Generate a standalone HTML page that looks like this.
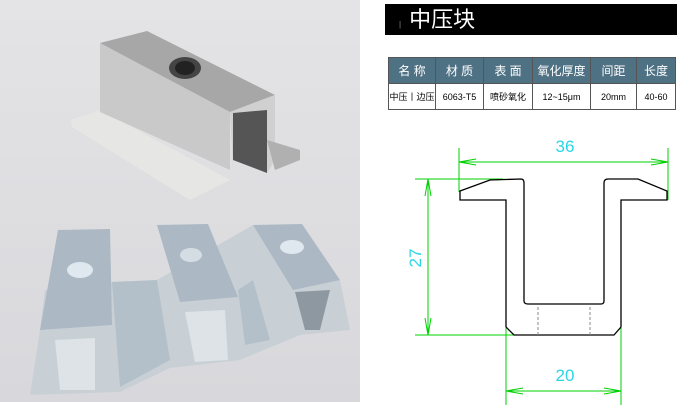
<!DOCTYPE html>
<html><head><meta charset="utf-8"><style>
body{margin:0;width:700px;height:410px;background:#fff;overflow:hidden;font-family:"Liberation Sans","Noto Sans CJK SC",sans-serif;position:relative}
.hdr{position:absolute;left:385px;top:4px;width:292px;height:31px;background:#000;color:#fff;font-size:22px;line-height:31px}
table{position:absolute;left:388px;top:57px;border-collapse:collapse;font-size:9px;text-align:center}
td{border:1px solid #555;padding:0;height:25px}
tr.h td{background:#4f7184;color:#fff;font-size:12px;height:25px}
</style></head><body>
<svg width="362" height="404" style="position:absolute;left:0;top:0">
<defs><linearGradient id="bg" x1="0" y1="0" x2="0" y2="1"><stop offset="0" stop-color="#e4e4e6"/><stop offset="1" stop-color="#d8d8dc"/></linearGradient></defs>
<rect x="0" y="0" width="360" height="402" fill="url(#bg)"/>
<!-- top piece -->
<polygon points="71,120 100,110 230,180 190,200 72,127" fill="#e6e6e4"/>
<polygon points="100,43 230,112 230,170 100,112" fill="#c9c9c9"/>
<polygon points="100,43 147,31 275,95 230,112" fill="#a7a7a7"/>
<polygon points="230,112 275,95 275,160 267,173 267,110 233,113 233,165" fill="#d0d0d0"/>
<polygon points="233,113 267,110 267,173 233,160" fill="#555"/>
<polygon points="267,140 300,150 300,160 275,170" fill="#b0b0b0"/>
<ellipse cx="185" cy="68" rx="16" ry="11" fill="#444"/>
<ellipse cx="185" cy="68" rx="10" ry="7" fill="#222"/>
<!-- bottom pieces -->
<polygon points="40,330 45,290 112,282 157,280 253,225 340,280 350,330 300,335 240,360 170,368 120,392 30,395" fill="#c8d0d6"/>
<polygon points="112,282 157,280 170,360 120,387" fill="#b4c0c9"/>
<polygon points="238,290 253,280 270,340 245,345" fill="#b4c0c9"/>
<polygon points="58,230 110,229 112,325 40,330" fill="#acb8c3"/>
<polygon points="157,225 208,224 238,297 180,302" fill="#acb8c3"/>
<polygon points="253,225 302,224 340,280 293,290" fill="#acb8c3"/>
<polygon points="55,340 95,338 95,390 60,390" fill="#dde3e6"/>
<polygon points="185,312 225,310 228,360 195,362" fill="#dde3e6"/>
<polygon points="295,292 330,290 320,330 305,330" fill="#8e98a0"/>
<ellipse cx="80" cy="270" rx="13" ry="8" fill="#dfe8ee"/>
<ellipse cx="191" cy="255" rx="11" ry="7" fill="#d4dde3"/>
<ellipse cx="292" cy="247" rx="12" ry="7" fill="#dfe8ee"/>
</svg>
<div class="hdr"><span style="font-size:8px;color:#888;margin:0 8px 0 14px">|</span>中压块</div>
<table>
<tr class="h"><td style="width:46px">名 称</td><td style="width:47px">材 质</td><td style="width:48px">表 面</td><td style="width:57px">氧化厚度</td><td style="width:45px">间距</td><td style="width:38px">长度</td></tr>
<tr><td>中压丨边压</td><td>6063-T5</td><td>喷砂氧化</td><td>12~15μm</td><td>20mm</td><td>40-60</td></tr>
</table>
<svg width="700" height="410" style="position:absolute;left:0;top:0">
<g stroke="#00d000" stroke-width="1" fill="none">
<line x1="459" y1="148" x2="459" y2="192"/><line x1="668" y1="148" x2="668" y2="200"/>
<line x1="459" y1="162" x2="668" y2="162"/>
<polyline points="476,159 459,162 476,165"/><polyline points="651,159 668,162 651,165"/>
<line x1="415" y1="179" x2="503" y2="179"/><line x1="415" y1="335" x2="515" y2="335"/>
<line x1="428" y1="179" x2="428" y2="335"/>
<polyline points="425,196 428,179 431,196"/><polyline points="425,318 428,335 431,318"/>
<line x1="506" y1="328" x2="506" y2="405"/><line x1="621" y1="328" x2="621" y2="405"/>
<line x1="506" y1="391" x2="621" y2="391"/>
<polyline points="523,388 506,391 523,394"/><polyline points="604,388 621,391 604,394"/>
</g>
<path d="M460,191 L490,180 L521,179 Q524,179 524,183 L524,301 Q524,304 528,304 L601,304 Q604,304 604,301 L604,183 Q604,179 608,179 L638,179 L667,191 L667,200 L622,200 L621,200 L621,327 L614,335 L514,335 L506,327 L506,200 L460,200 Z" fill="none" stroke="#000" stroke-width="1.3"/>
<g stroke="#888" stroke-dasharray="3,2"><line x1="538" y1="307" x2="538" y2="335"/><line x1="590" y1="307" x2="590" y2="335"/></g>
<g fill="#2ad6e6" font-family="Liberation Sans,sans-serif" font-size="17" text-anchor="middle">
<text x="565" y="152">36</text><text x="565" y="381">20</text>
<text transform="translate(421,258) rotate(-90)">27</text>
</g>
</svg>
</body></html>
